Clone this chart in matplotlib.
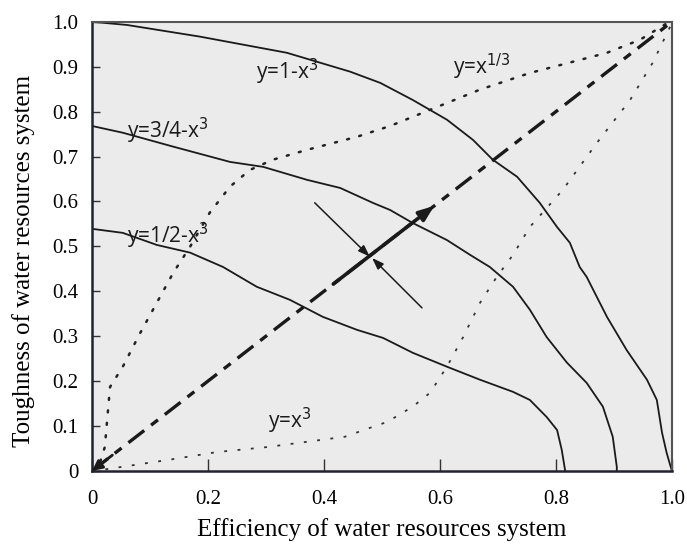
import matplotlib
matplotlib.use("Agg")
from matplotlib import pyplot as plt

# values
curve_1_x = [0, 0.060, 0.186, 0.336, 0.445, 0.497, 0.553, 0.612, 0.657, 0.691, 0.733, 0.772, 0.802, 0.824,
             0.841, 0.853, 0.888, 0.922, 0.957, 0.974, 0.983, 0.991, 1.0]
curve_1_y = [1.0, 0.993, 0.967, 0.931, 0.889, 0.864, 0.826, 0.782, 0.737, 0.693, 0.655, 0.597, 0.543, 0.508,
             0.454, 0.432, 0.343, 0.269, 0.203, 0.158, 0.085, 0.040, 0]

curve_34_x = [0, 0.053, 0.140, 0.238, 0.295, 0.371, 0.428, 0.484, 0.514, 0.553, 0.612, 0.652, 0.686, 0.726,
              0.755, 0.784, 0.819, 0.853, 0.881, 0.898, 0.905, 0.905]
curve_34_y = [0.768, 0.753, 0.722, 0.688, 0.677, 0.648, 0.630, 0.597, 0.581, 0.552, 0.514, 0.481, 0.454, 0.410,
              0.359, 0.298, 0.241, 0.196, 0.143, 0.076, 0.009, 0]

curve_12_x = [0, 0.053, 0.112, 0.169, 0.226, 0.284, 0.341, 0.398, 0.457, 0.502, 0.553, 0.612, 0.669, 0.726,
              0.755, 0.784, 0.802, 0.810, 0.816]
curve_12_y = [0.539, 0.530, 0.503, 0.486, 0.454, 0.410, 0.381, 0.343, 0.314, 0.296, 0.263, 0.232, 0.203, 0.176,
              0.158, 0.120, 0.091, 0.047, 0]

cbrt_x = [0, 0.014, 0.022, 0.031, 0.053, 0.083, 0.140, 0.169, 0.203, 0.238, 0.272, 0.312, 0.371, 0.457,
          0.514, 0.583, 0.669, 0.755, 0.841, 0.888, 0.945, 0.993]
cbrt_y = [0, 0.020, 0.053, 0.187, 0.232, 0.307, 0.441, 0.499, 0.575, 0.633, 0.670, 0.693, 0.715, 0.744,
          0.768, 0.804, 0.849, 0.886, 0.915, 0.931, 0.960, 0.998]

cube_x = [0, 0.026, 0.129, 0.216, 0.302, 0.436, 0.484, 0.509, 0.553, 0.583, 0.612, 0.640, 0.669, 0.698,
          0.726, 0.755, 0.812, 0.871, 0.928, 0.967, 0.997]
cube_y = [0, 0.004, 0.024, 0.042, 0.053, 0.076, 0.098, 0.109, 0.143, 0.174, 0.232, 0.298, 0.374, 0.432,
          0.481, 0.543, 0.626, 0.731, 0.826, 0.909, 0.989]

diag_x = [0, 1]
diag_y = [0, 1]

# solid part of the diagonal and the two thin arrows: (start, tip)
main_arrow = [(0.416, 0.416), (0.59, 0.59)]
thin_arrow_1 = [(0.384, 0.597), (0.479, 0.477)]
thin_arrow_2 = [(0.569, 0.363), (0.483, 0.474)]

labels = ["y=1-x$^3$", "y=3/4-x$^3$", "y=1/2-x$^3$", "y=x$^{1/3}$", "y=x$^3$"]
label_pos = [(0.336, 0.888), (0.131, 0.757), (0.131, 0.524), (0.673, 0.900), (0.341, 0.112)]

ticks = [0, 0.2, 0.4, 0.6, 0.8, 1.0]
tick_labels = ["0", "0.2", "0.4", "0.6", "0.8", "1.0"]
yticks = [0, 0.1, 0.2, 0.3, 0.4, 0.5, 0.6, 0.7, 0.8, 0.9, 1.0]
ytick_labels = ["0", "0.1", "0.2", "0.3", "0.4", "0.5", "0.6", "0.7", "0.8", "0.9", "1.0"]

fig = plt.figure(figsize=(6.87, 5.45), dpi=100)
ax = fig.add_axes([0.134, 0.136, 0.844, 0.824])
ax.set_facecolor("#ebebeb")

ax.plot(curve_1_x, curve_1_y, color="#1a1a1a", lw=1.3)
ax.plot(curve_34_x, curve_34_y, color="#1a1a1a", lw=1.3)
ax.plot(curve_12_x, curve_12_y, color="#1a1a1a", lw=1.3)
ax.plot(cbrt_x, cbrt_y, color="#222222", lw=1.8, linestyle=(0, (0.8, 4.2)), dash_capstyle="round")
ax.plot(cube_x, cube_y, color="#333333", lw=1.3, linestyle=(0, (1.6, 5.8)))
ax.plot(diag_x, diag_y, color="#1a1a1a", lw=2.4, linestyle=(0, (6.0, 2.6, 2.6, 2.6)))

ax.annotate("", xy=main_arrow[1], xytext=main_arrow[0],
            arrowprops=dict(arrowstyle="-|>,head_length=0.9,head_width=0.35", color="#1a1a1a", lw=2.6,
                            shrinkA=0, shrinkB=0))
for arr in (thin_arrow_1, thin_arrow_2):
    ax.annotate("", xy=arr[1], xytext=arr[0],
                arrowprops=dict(arrowstyle="-|>,head_length=0.7,head_width=0.25", color="#1a1a1a", lw=1.1,
                                shrinkA=0, shrinkB=0))
ax.annotate("", xy=(0, 0), xytext=(0.035, 0.035),
            arrowprops=dict(arrowstyle="-|>,head_length=0.6,head_width=0.3", color="#1a1a1a", lw=2,
                            shrinkA=0, shrinkB=0))

for text, (lx, ly) in zip(labels, label_pos):
    ax.text(lx, ly, text, fontsize=15, family="Open Sans", color="#1a1a1a", ha="center", va="center")

ax.set_xlim(0, 1)
ax.set_ylim(0, 1)
ax.set_xticks(ticks)
ax.set_xticklabels(tick_labels, family="Liberation Serif", fontsize=15)
ax.set_yticks(yticks)
ax.set_yticklabels(ytick_labels, family="Liberation Serif", fontsize=15)
ax.tick_params(axis="x", direction="in", length=9, width=1, pad=14, color="#333333")
ax.tick_params(axis="y", direction="in", length=6, width=1, pad=10, color="#333333")

for side in ("left", "bottom"):
    ax.spines[side].set_color("#222233")
    ax.spines[side].set_linewidth(1.8)
for side in ("top", "right"):
    ax.spines[side].set_color("#555555")
    ax.spines[side].set_linewidth(1.5)

ax.set_xlabel("Efficiency of water resources system", family="Liberation Serif", fontsize=18, labelpad=6)
ax.set_ylabel("Toughness of water resources system", family="Liberation Serif", fontsize=18)
ax.yaxis.set_label_coords(-0.098, 0.468)

fig.savefig("out.png", dpi=100)
